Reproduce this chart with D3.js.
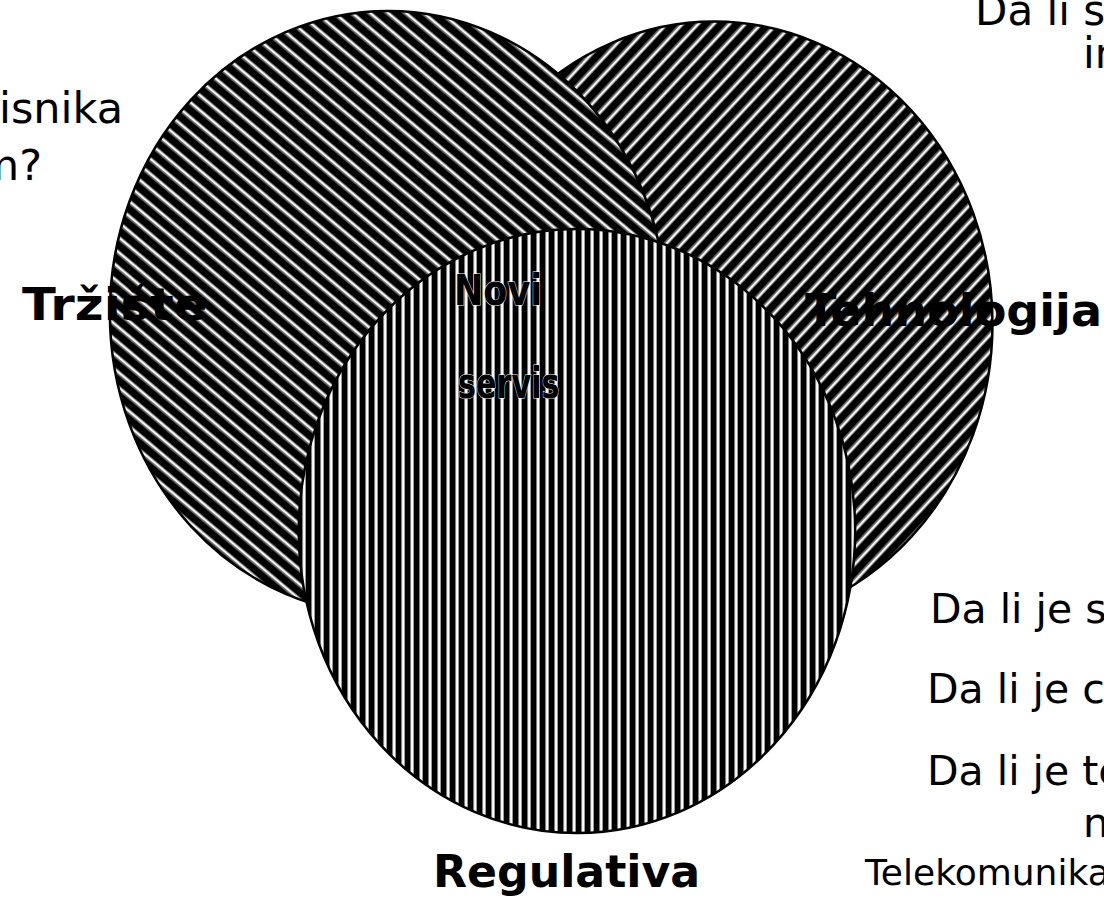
<!DOCTYPE html>
<html>
<head>
<meta charset="utf-8">
<script src="https://cdn.jsdelivr.net/npm/d3@7"></script>
<style>
  html, body { margin: 0; padding: 0; background: #fff; overflow: hidden; }
  svg { display: block; }
  text { font-family: "Comic Sans MS", "DejaVu Sans", sans-serif; fill: #000; }
</style>
</head>
<body>
<svg id="venn"></svg>
<script>
// sets, from the bottom layer up
const sets = ["Tehnologija", "Tržište", "Regulativa"];
const centerLabel = ["Novi", "servis"];
const marketQuestion = ["Da li postoji potreba korisnika", "za ovim servisom?"];
const techQuestion = ["Da li su tehnologija i", "infrastruktura dostupne?"];
const regQuestions = ["Da li je servis dozvoljen?", "Da li je cijena prihvatljiva?",
                      "Da li je tehnologija dozvoljena", "na tržištu?"];
const regSource = ["Telekomunikacioni zakon"];

const W = 1104, H = 899;

// slide is 10 x 7.5 inches, stretched to the window
const x = d3.scaleLinear().domain([0, 10]).range([0, W]);
const y = d3.scaleLinear().domain([0, 7.5]).range([0, H]);

// circle layout in slide inches
const circles = {
  "Tehnologija": { cx: 6.470, cy: 2.700, r: 2.52, fill: "url(#hatchRight)" },
  "Tržište":     { cx: 3.515, cy: 2.611, r: 2.52, fill: "url(#hatchLeft)" },
  "Regulativa":  { cx: 5.226, cy: 4.430, r: 2.52, fill: "url(#hatchVert)" }
};

const svg = d3.select("#venn").attr("width", W).attr("height", H);
const defs = svg.append("defs");

function stripes(id, angle, period, dark, edge) {
  const p = defs.append("pattern")
    .attr("id", id)
    .attr("patternUnits", "userSpaceOnUse")
    .attr("width", period).attr("height", period)
    .attr("patternTransform", "rotate(" + angle + ")");
  p.append("rect").attr("width", period).attr("height", period).attr("fill", "#fff");
  p.append("rect").attr("width", dark).attr("height", period).attr("fill", "#000");
  // blurred stripe edges
  p.append("rect").attr("x", dark).attr("width", edge).attr("height", period).attr("fill", "#707070");
  p.append("rect").attr("x", period - edge).attr("width", edge).attr("height", period).attr("fill", "#707070");
}
stripes("hatchLeft", -50, 11.5, 7.4, 1.1);
stripes("hatchRight", 43, 11.5, 7.4, 1.1);
stripes("hatchVert", 0, 9, 5.4, 0.7);

// the three sets
svg.append("g").selectAll("ellipse")
  .data(sets)
  .join("ellipse")
    .attr("cx", d => x(circles[d].cx))
    .attr("cy", d => y(circles[d].cy))
    .attr("rx", d => x(circles[d].r) - x(0))
    .attr("ry", d => y(circles[d].r) - y(0))
    .attr("fill", d => circles[d].fill)
    .attr("stroke", "#000")
    .attr("stroke-width", 2.5);

// set labels: [x, baseline, width] in inches
const labelPos = {
  "Tržište":     [0.199, 2.670, 1.68],
  "Tehnologija": [7.292, 2.720, 2.69],
  "Regulativa":  [3.922, 7.400, 2.42]
};
svg.append("g").selectAll("text")
  .data(sets)
  .join("text")
    .attr("x", d => x(labelPos[d][0]))
    .attr("y", d => y(labelPos[d][1]))
    .attr("textLength", d => x(labelPos[d][2]) - x(0))
    .attr("lengthAdjust", "spacingAndGlyphs")
    .attr("font-size", 44)
    .attr("font-weight", "bold")
    .text(d => d);

// intersection label
const centerPos = [[4.112, 2.544, 0.80], [4.149, 3.320, 0.92]];
svg.append("g").selectAll("text")
  .data(centerLabel)
  .join("text")
    .attr("x", (d, i) => x(centerPos[i][0]))
    .attr("y", (d, i) => y(centerPos[i][1]))
    .attr("textLength", (d, i) => x(centerPos[i][2]) - x(0))
    .attr("lengthAdjust", "spacingAndGlyphs")
    .attr("font-size", 42)
    .attr("font-weight", "bold")
    .attr("stroke", "#fff")
    .attr("stroke-width", 1)
    .attr("paint-order", "stroke")
    .text(d => d);

// questions around the diagram
function lines(list, pos, anchor, size) {
  svg.append("g").selectAll("text")
    .data(list)
    .join("text")
      .attr("x", (d, i) => x(pos[i][0]))
      .attr("y", (d, i) => y(pos[i][1]))
      .attr("text-anchor", anchor)
      .attr("font-size", size)
      .text(d => d);
}
lines(marketQuestion, [[1.114, 1.026], [0.380, 1.502]], "end", 43);
lines(techQuestion, [[8.832, 0.209], [9.810, 0.567]], "start", 42);
lines(regQuestions, [[8.424, 5.197], [8.397, 5.865], [8.397, 6.549], [9.810, 6.983]], "start", 41);
lines(regSource, [[7.835, 7.383]], "start", 36);
</script>
</body>
</html>
